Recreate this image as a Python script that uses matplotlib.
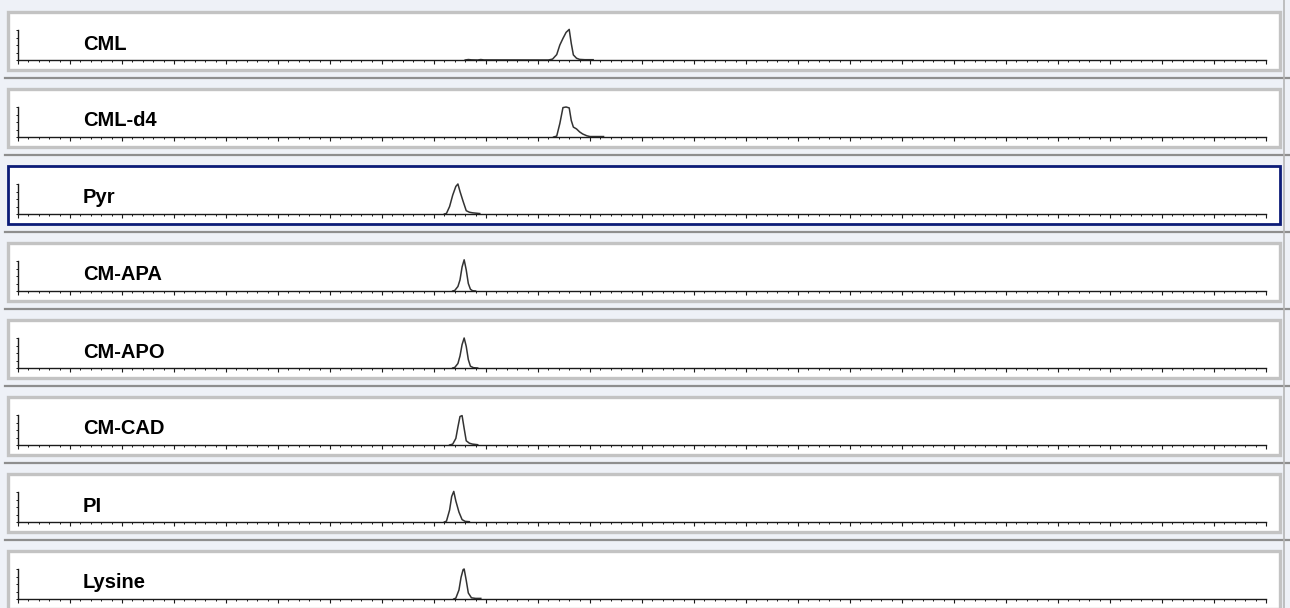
import matplotlib
matplotlib.use("Agg")
import matplotlib.pyplot as plt
from matplotlib.patches import Rectangle
from matplotlib.lines import Line2D
from matplotlib.ticker import MultipleLocator

plt.rcParams['font.family'] = ['Liberation Sans', 'DejaVu Sans']

# ---- data: compound names and chromatogram traces (time in min, relative intensity %) ----
compounds = ["CML", "CML-d4", "Pyr", "CM-APA", "CM-APO", "CM-CAD", "PI", "Lysine"]

cml_t = [4.30, 4.33, 4.36, 4.42, 4.45, 4.48, 5.10, 5.14, 5.18, 5.21, 5.24, 5.27, 5.30, 5.32, 5.34, 5.37, 5.40, 5.45, 5.53]
cml_y = [0, 1.5, 0.5, 0, 1.5, 0.3, 0, 3, 18, 50, 72, 92, 102, 55, 17, 6, 2, 1, 1]

cmld4_t = [5.15, 5.18, 5.21, 5.24, 5.27, 5.30, 5.32, 5.34, 5.37, 5.40, 5.43, 5.47, 5.50, 5.63]
cmld4_y = [0, 3, 45, 98, 100, 97, 55, 33, 27, 17, 10, 4, 1.5, 1.5]

pyr_t = [4.10, 4.12, 4.15, 4.18, 4.21, 4.23, 4.25, 4.28, 4.31, 4.34, 4.37, 4.44]
pyr_y = [0, 2, 25, 63, 92, 100, 75, 42, 11, 6, 4, 1.5]

cmapa_t = [4.18, 4.20, 4.23, 4.25, 4.27, 4.29, 4.31, 4.33, 4.35, 4.37, 4.40]
cmapa_y = [0, 2, 15, 37, 80, 104, 70, 25, 6, 1, 0]

cmapo_t = [4.18, 4.20, 4.23, 4.25, 4.27, 4.29, 4.31, 4.33, 4.35, 4.38, 4.42]
cmapo_y = [0, 2, 15, 40, 78, 100, 72, 28, 6, 1, 0]

cmcad_t = [4.15, 4.18, 4.21, 4.23, 4.25, 4.27, 4.29, 4.31, 4.34, 4.37, 4.42]
cmcad_y = [0, 3, 22, 60, 95, 98, 55, 14, 6, 3, 1]

pi_t = [4.10, 4.12, 4.15, 4.17, 4.19, 4.21, 4.24, 4.27, 4.30, 4.34]
pi_y = [0, 3, 40, 85, 102, 70, 33, 8, 2, 1]

lys_t = [4.19, 4.21, 4.24, 4.26, 4.28, 4.29, 4.31, 4.33, 4.36, 4.40, 4.45]
lys_y = [0, 3, 30, 72, 98, 100, 62, 20, 4, 2, 2]

traces = [(cml_t, cml_y), (cmld4_t, cmld4_y), (pyr_t, pyr_y), (cmapa_t, cmapa_y),
          (cmapo_t, cmapo_y), (cmcad_t, cmcad_y), (pi_t, pi_y), (lys_t, lys_y)]
selected = "Pyr"

# ---- layout ----
W, H = 1290, 608
fig = plt.figure(figsize=(W / 100, H / 100), dpi=100)
fig.patch.set_facecolor('#eef1f7')

PITCH = 77
def fy(px):
    return 1 - px / H

for i, (name, (t, y)) in enumerate(zip(compounds, traces)):
    top = 1 + PITCH * i
    # separator band
    fig.add_artist(Line2D([0.004, 1], [fy(top + 77), fy(top + 77)], transform=fig.transFigure,
                          color='#8e8e8e', lw=1.6, zorder=-10))
    # panel box
    ec = '#0c1c78' if name == selected else '#c3c3c3'
    lw = 2.0 if name == selected else 2.4
    fig.add_artist(Rectangle((8 / W, fy(top + 69)), (1280 - 8) / W, 58 / H,
                             transform=fig.transFigure, facecolor='white',
                             edgecolor=ec, lw=lw, zorder=-10))
    ax = fig.add_axes([18 / W, fy(top + 59), 1248 / W, 30 / H])
    ax.set_zorder(5)
    ax.set_facecolor('none')
    ax.plot(t, y, color='#333333', lw=1.1, clip_on=False)
    ax.set_xlim(0, 12)
    ax.set_ylim(0, 100)
    for s in ('top', 'right'):
        ax.spines[s].set_visible(False)
    for s in ('left', 'bottom'):
        ax.spines[s].set_color('#1a1a1a')
        ax.spines[s].set_linewidth(1.0)
    ax.xaxis.set_major_locator(MultipleLocator(0.5))
    ax.xaxis.set_minor_locator(MultipleLocator(0.1))
    ax.yaxis.set_major_locator(MultipleLocator(50))
    ax.yaxis.set_minor_locator(MultipleLocator(25))
    ax.tick_params(axis='x', which='major', direction='out', length=3.2, width=0.8,
                   color='#1a1a1a', labelbottom=False)
    ax.tick_params(axis='x', which='minor', direction='out', length=1.6, width=0.7,
                   color='#1a1a1a')
    ax.tick_params(axis='y', which='both', direction='out', length=1.8, width=0.7,
                   color='#1a1a1a', labelleft=False)
    fig.text(83 / W, fy(top + 43), name, fontsize=14.5, fontweight='bold',
             ha='left', va='center', color='black', zorder=6)

# right edge frame line
fig.add_artist(Line2D([1284 / W, 1284 / W], [0, 1], transform=fig.transFigure,
                      color='#b5b5b5', lw=1.2, zorder=-10))

fig.savefig('out.png', dpi=100, facecolor=fig.get_facecolor())
